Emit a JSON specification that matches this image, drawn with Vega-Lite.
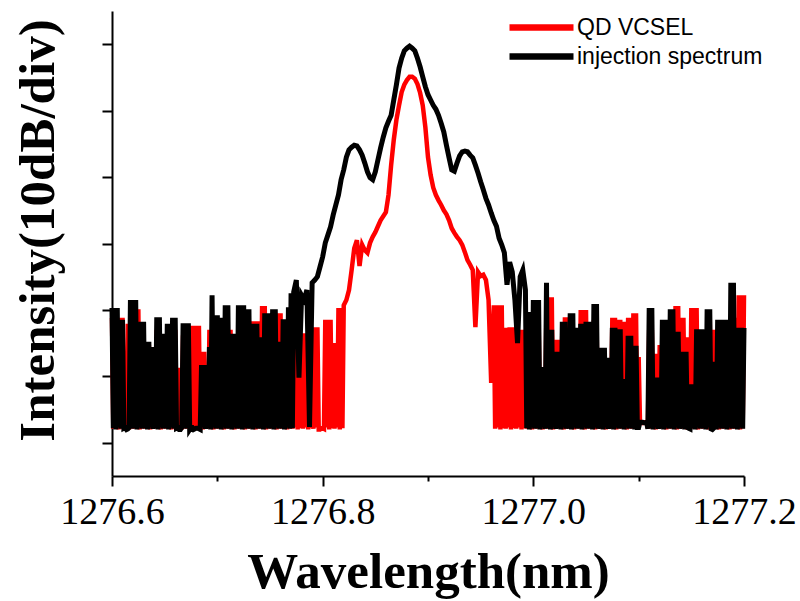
{
 "$schema": "https://vega.github.io/schema/vega-lite/v6.json",
 "width": 632, "height": 465,
 "autosize": {"type": "none"},
 "padding": {"left": 112, "top": 11, "right": 56, "bottom": 125},
 "background": "white",
 "config": {"view": {"stroke": null}},
 "data": {"values": [
{"w":1276.6,"r":23.8,"b":25.3},{"w":1276.6025,"r":23.8,"b":25.3},{"w":1276.605,"r":23.8,"b":25.3},{"w":1276.6075,"r":23.8,"b":23.5},
{"w":1276.61,"r":23.8,"b":23.5},{"w":1276.6125,"r":17.8,"b":7.3},{"w":1276.615,"r":22.9,"b":7.1},{"w":1276.6175,"r":25.1,"b":26.5},
{"w":1276.62,"r":25.1,"b":26.5},{"w":1276.6225,"r":25.1,"b":26.5},{"w":1276.625,"r":25.1,"b":14.2},{"w":1276.6275,"r":20.5,"b":23.2},
{"w":1276.63,"r":20.5,"b":23.2},{"w":1276.6325,"r":19.7,"b":20.2},{"w":1276.635,"r":19.7,"b":20.2},{"w":1276.6375,"r":19.4,"b":19.4},
{"w":1276.64,"r":19.4,"b":19.4},{"w":1276.6425,"r":22.0,"b":23.9},{"w":1276.645,"r":22.0,"b":23.9},{"w":1276.6475,"r":20.5,"b":21.4},
{"w":1276.65,"r":20.5,"b":21.4},{"w":1276.6525,"r":20.5,"b":22.9},{"w":1276.655,"r":20.5,"b":22.9},{"w":1276.6575,"r":22.0,"b":23.8},
{"w":1276.66,"r":22.0,"b":23.8},{"w":1276.6625,"r":16.3,"b":7.3},{"w":1276.665,"r":16.3,"b":7.0},{"w":1276.6675,"r":21.2,"b":23.0},
{"w":1276.67,"r":21.2,"b":23.0},{"w":1276.6725,"r":22.6,"b":23.0},{"w":1276.675,"r":22.6,"b":7.3},{"w":1276.6775,"r":22.6,"b":7.0},
{"w":1276.68,"r":22.6,"b":7.2},{"w":1276.6825,"r":22.6,"b":7.1},{"w":1276.685,"r":18.7,"b":16.7},{"w":1276.6875,"r":18.7,"b":16.7},
{"w":1276.69,"r":11.4,"b":11.4},{"w":1276.6925,"r":22.0,"b":19.4},{"w":1276.695,"r":22.0,"b":27.2},{"w":1276.6975,"r":22.0,"b":24.2},
{"w":1276.7,"r":22.0,"b":24.2},{"w":1276.7025,"r":22.0,"b":23.8},{"w":1276.705,"r":22.0,"b":23.8},{"w":1276.7075,"r":22.0,"b":25.7},
{"w":1276.71,"r":22.0,"b":25.7},{"w":1276.7125,"r":22.0,"b":21.4},{"w":1276.715,"r":17.9,"b":21.4},{"w":1276.7175,"r":17.9,"b":21.4},
{"w":1276.72,"r":22.0,"b":25.7},{"w":1276.7225,"r":22.0,"b":25.7},{"w":1276.725,"r":22.0,"b":25.7},{"w":1276.7275,"r":22.0,"b":25.1},
{"w":1276.73,"r":22.0,"b":25.1},{"w":1276.7325,"r":23.3,"b":22.9},{"w":1276.735,"r":23.3,"b":22.9},{"w":1276.7375,"r":23.3,"b":22.9},
{"w":1276.74,"r":23.3,"b":20.9},{"w":1276.7425,"r":25.6,"b":20.9},{"w":1276.745,"r":25.6,"b":24.5},{"w":1276.7475,"r":22.0,"b":24.5},
{"w":1276.75,"r":22.0,"b":24.5},{"w":1276.7525,"r":22.0,"b":25.1},{"w":1276.755,"r":23.5,"b":25.1},{"w":1276.7575,"r":24.5,"b":20.2},
{"w":1276.76,"r":24.5,"b":20.2},{"w":1276.7625,"r":22.0,"b":23.6},{"w":1276.765,"r":22.0,"b":23.6},{"w":1276.7675,"r":22.0,"b":25.4},
{"w":1276.77,"r":22.0,"b":27.5},{"w":1276.7725,"r":22.0,"b":27.7},{"w":1276.775,"r":22.0,"b":29.5},{"w":1276.7775,"r":18.2,"b":14.8},
{"w":1276.78,"r":21.5,"b":27.2},{"w":1276.7825,"r":21.5,"b":26.5},{"w":1276.785,"r":20.5,"b":28.0},{"w":1276.7875,"r":20.5,"b":7.4},
{"w":1276.79,"r":17.5,"b":29.1},{"w":1276.7925,"r":22.4,"b":29.5},{"w":1276.795,"r":22.4,"b":30.0},{"w":1276.7975,"r":7.0,"b":31.5},
{"w":1276.8,"r":7.2,"b":33.0},{"w":1276.8025,"r":23.5,"b":35.1},{"w":1276.805,"r":23.5,"b":36.3},{"w":1276.8075,"r":23.5,"b":37.5},
{"w":1276.81,"r":20.0,"b":39.3},{"w":1276.8125,"r":20.0,"b":40.8},{"w":1276.815,"r":25.3,"b":42.3},{"w":1276.8175,"r":25.3,"b":44.6},
{"w":1276.82,"r":25.7,"b":46.1},{"w":1276.8225,"r":26.5,"b":48.0},{"w":1276.825,"r":28.0,"b":49.1},{"w":1276.8275,"r":31.0,"b":49.5},
{"w":1276.83,"r":34.3,"b":49.8},{"w":1276.8325,"r":35.5,"b":49.7},{"w":1276.835,"r":31.6,"b":49.1},{"w":1276.8375,"r":34.8,"b":48.3},
{"w":1276.84,"r":34.0,"b":47.1},{"w":1276.8425,"r":33.6,"b":45.8},{"w":1276.845,"r":35.1,"b":44.9},{"w":1276.8475,"r":36.0,"b":44.6},
{"w":1276.85,"r":36.7,"b":45.8},{"w":1276.8525,"r":37.6,"b":47.6},{"w":1276.855,"r":38.5,"b":49.4},{"w":1276.8575,"r":39.1,"b":51.0},
{"w":1276.86,"r":39.7,"b":52.4},{"w":1276.8625,"r":42.3,"b":53.4},{"w":1276.865,"r":46.8,"b":54.3},{"w":1276.8675,"r":50.6,"b":56.6},
{"w":1276.87,"r":53.6,"b":58.9},{"w":1276.8725,"r":55.8,"b":61.4},{"w":1276.875,"r":57.8,"b":62.9},{"w":1276.8775,"r":58.9,"b":64.0},
{"w":1276.88,"r":59.6,"b":64.4},{"w":1276.8825,"r":60.1,"b":64.7},{"w":1276.885,"r":60.1,"b":64.4},{"w":1276.8875,"r":59.8,"b":64.0},
{"w":1276.89,"r":59.0,"b":62.9},{"w":1276.8925,"r":57.7,"b":61.6},{"w":1276.895,"r":55.8,"b":60.1},{"w":1276.8975,"r":52.5,"b":58.6},
{"w":1276.9,"r":48.0,"b":57.4},{"w":1276.9025,"r":45.3,"b":56.6},{"w":1276.905,"r":43.4,"b":55.8},{"w":1276.9075,"r":42.3,"b":55.2},
{"w":1276.91,"r":41.5,"b":54.3},{"w":1276.9125,"r":40.8,"b":53.1},{"w":1276.915,"r":40.0,"b":51.8},{"w":1276.9175,"r":39.4,"b":49.8},
{"w":1276.92,"r":38.5,"b":47.9},{"w":1276.9225,"r":37.3,"b":46.1},{"w":1276.925,"r":36.6,"b":45.9},{"w":1276.9275,"r":36.0,"b":47.1},
{"w":1276.93,"r":35.5,"b":48.2},{"w":1276.9325,"r":34.8,"b":48.8},{"w":1276.935,"r":33.7,"b":48.9},{"w":1276.9375,"r":32.5,"b":48.8},
{"w":1276.94,"r":31.8,"b":48.3},{"w":1276.9425,"r":31.0,"b":47.9},{"w":1276.945,"r":22.4,"b":46.8},{"w":1276.9475,"r":30.7,"b":45.6},
{"w":1276.95,"r":30.1,"b":44.3},{"w":1276.9525,"r":30.3,"b":43.1},{"w":1276.955,"r":29.5,"b":41.8},{"w":1276.9575,"r":26.5,"b":40.8},
{"w":1276.96,"r":14.0,"b":39.6},{"w":1276.9625,"r":25.7,"b":38.5},{"w":1276.965,"r":25.7,"b":37.6},{"w":1276.9675,"r":25.7,"b":35.8},
{"w":1276.97,"r":25.7,"b":34.8},{"w":1276.9725,"r":22.3,"b":33.6},{"w":1276.975,"r":22.3,"b":28.8},{"w":1276.9775,"r":22.4,"b":32.2},
{"w":1276.98,"r":22.4,"b":30.7},{"w":1276.9825,"r":22.4,"b":26.5},{"w":1276.985,"r":22.4,"b":20.0},{"w":1276.9875,"r":22.0,"b":30.0},
{"w":1276.99,"r":22.0,"b":31.0},{"w":1276.9925,"r":22.0,"b":28.0},{"w":1276.995,"r":20.5,"b":24.7},{"w":1276.9975,"r":23.5,"b":24.7},
{"w":1277.0,"r":23.5,"b":26.5},{"w":1277.0025,"r":23.5,"b":26.5},{"w":1277.005,"r":23.5,"b":26.5},{"w":1277.0075,"r":16.0,"b":16.4},
{"w":1277.01,"r":16.0,"b":16.4},{"w":1277.0125,"r":26.5,"b":29.1},{"w":1277.015,"r":26.9,"b":22.0},{"w":1277.0175,"r":26.9,"b":22.0},
{"w":1277.02,"r":20.5,"b":18.7},{"w":1277.0225,"r":20.5,"b":18.7},{"w":1277.025,"r":20.5,"b":14.2},{"w":1277.0275,"r":22.0,"b":23.2},
{"w":1277.03,"r":23.9,"b":23.2},{"w":1277.0325,"r":23.9,"b":12.2},{"w":1277.035,"r":22.0,"b":24.5},{"w":1277.0375,"r":22.0,"b":24.5},
{"w":1277.04,"r":21.2,"b":22.3},{"w":1277.0425,"r":21.2,"b":22.3},{"w":1277.045,"r":25.0,"b":22.9},{"w":1277.0475,"r":25.0,"b":22.9},
{"w":1277.05,"r":25.0,"b":23.2},{"w":1277.0525,"r":22.0,"b":23.2},{"w":1277.055,"r":22.0,"b":23.2},{"w":1277.0575,"r":23.5,"b":25.9},
{"w":1277.06,"r":23.5,"b":25.9},{"w":1277.0625,"r":17.5,"b":19.3},{"w":1277.065,"r":17.5,"b":19.3},{"w":1277.0675,"r":17.5,"b":19.3},
{"w":1277.07,"r":17.5,"b":17.8},{"w":1277.0725,"r":17.5,"b":17.8},{"w":1277.075,"r":23.8,"b":22.3},{"w":1277.0775,"r":23.8,"b":22.3},
{"w":1277.08,"r":23.5,"b":22.1},{"w":1277.0825,"r":23.5,"b":22.1},{"w":1277.085,"r":23.2,"b":14.6},{"w":1277.0875,"r":23.2,"b":14.6},
{"w":1277.09,"r":23.8,"b":21.1},{"w":1277.0925,"r":23.8,"b":21.1},{"w":1277.095,"r":24.5,"b":19.6},{"w":1277.0975,"r":24.5,"b":19.6},
{"w":1277.1,"r":17.9,"b":7.3},{"w":1277.1025,"r":8.1,"b":8.1},{"w":1277.105,"r":8.1,"b":8.0},{"w":1277.1075,"r":8.0,"b":8.1},
{"w":1277.11,"r":22.0,"b":25.3},{"w":1277.1125,"r":22.0,"b":25.3},{"w":1277.115,"r":18.4,"b":14.8},{"w":1277.1175,"r":18.4,"b":14.8},
{"w":1277.12,"r":19.7,"b":14.8},{"w":1277.1225,"r":19.7,"b":23.5},{"w":1277.125,"r":22.0,"b":23.5},{"w":1277.1275,"r":22.0,"b":23.5},
{"w":1277.13,"r":23.5,"b":25.1},{"w":1277.1325,"r":23.5,"b":25.1},{"w":1277.135,"r":25.6,"b":21.7},{"w":1277.1375,"r":25.6,"b":21.7},
{"w":1277.14,"r":23.8,"b":18.7},{"w":1277.1425,"r":23.8,"b":18.7},{"w":1277.145,"r":20.9,"b":18.7},{"w":1277.1475,"r":20.9,"b":7.2},
{"w":1277.15,"r":25.3,"b":13.8},{"w":1277.1525,"r":25.3,"b":13.8},{"w":1277.155,"r":25.3,"b":22.1},{"w":1277.1575,"r":20.5,"b":22.1},
{"w":1277.16,"r":20.5,"b":22.1},{"w":1277.1625,"r":20.5,"b":18.2},{"w":1277.165,"r":20.5,"b":25.1},{"w":1277.1675,"r":23.5,"b":25.1},
{"w":1277.17,"r":22.0,"b":7.0},{"w":1277.1725,"r":22.0,"b":17.2},{"w":1277.175,"r":22.0,"b":23.5},{"w":1277.1775,"r":20.5,"b":23.5},
{"w":1277.18,"r":20.5,"b":23.5},{"w":1277.1825,"r":20.5,"b":23.5},{"w":1277.185,"r":20.5,"b":23.2},{"w":1277.1875,"r":22.0,"b":29.1},
{"w":1277.19,"r":22.0,"b":29.1},{"w":1277.1925,"r":23.8,"b":20.5},{"w":1277.195,"r":27.2,"b":22.3},{"w":1277.1975,"r":27.2,"b":22.3},
{"w":1277.2,"r":27.2,"b":22.3},
{"w":1276.60125,"r":7.1,"b":7.2},{"w":1276.60375,"r":7.3,"b":7.0},{"w":1276.60625,"r":7.0,"b":7.3},{"w":1276.60875,"r":7.2,"b":7.1},
{"w":1276.61125,"r":7.1,"b":7.2},{"w":1276.61375,"r":7.3,"b":7.0},{"w":1276.61625,"r":7.0,"b":7.3},{"w":1276.61875,"r":7.2,"b":7.1},
{"w":1276.62125,"r":7.1,"b":7.2},{"w":1276.62375,"r":7.3,"b":7.0},{"w":1276.62625,"r":7.0,"b":7.3},{"w":1276.62875,"r":7.2,"b":7.1},
{"w":1276.63125,"r":7.1,"b":7.2},{"w":1276.63375,"r":7.3,"b":7.0},{"w":1276.63625,"r":7.0,"b":7.3},{"w":1276.63875,"r":7.2,"b":7.1},
{"w":1276.64125,"r":7.1,"b":7.2},{"w":1276.64375,"r":7.3,"b":7.0},{"w":1276.64625,"r":7.0,"b":7.3},{"w":1276.64875,"r":7.2,"b":7.1},
{"w":1276.65125,"r":7.1,"b":7.2},{"w":1276.65375,"r":7.3,"b":7.0},{"w":1276.65625,"r":7.0,"b":7.3},{"w":1276.65875,"r":7.2,"b":7.1},
{"w":1276.66125,"r":7.1,"b":7.2},{"w":1276.66375,"r":7.3,"b":7.0},{"w":1276.66625,"r":7.0,"b":7.3},{"w":1276.66875,"r":7.2,"b":7.1},
{"w":1276.67125,"r":7.1,"b":7.2},{"w":1276.67375,"r":7.3,"b":7.0},{"w":1276.67625,"r":7.0,"b":7.3},{"w":1276.67875,"r":7.2,"b":7.1},
{"w":1276.68125,"r":7.1,"b":7.2},{"w":1276.68375,"r":7.3,"b":7.0},{"w":1276.68625,"r":7.0,"b":7.3},{"w":1276.68875,"r":7.2,"b":7.1},
{"w":1276.69125,"r":7.1,"b":7.2},{"w":1276.69375,"r":7.3,"b":7.0},{"w":1276.69625,"r":7.0,"b":7.3},{"w":1276.69875,"r":7.2,"b":7.1},
{"w":1276.70125,"r":7.1,"b":7.2},{"w":1276.70375,"r":7.3,"b":7.0},{"w":1276.70625,"r":7.0,"b":7.3},{"w":1276.70875,"r":7.2,"b":7.1},
{"w":1276.71125,"r":7.1,"b":7.2},{"w":1276.71375,"r":7.3,"b":7.0},{"w":1276.71625,"r":7.0,"b":7.3},{"w":1276.71875,"r":7.2,"b":7.1},
{"w":1276.72125,"r":7.1,"b":7.2},{"w":1276.72375,"r":7.3,"b":7.0},{"w":1276.72625,"r":7.0,"b":7.3},{"w":1276.72875,"r":7.2,"b":7.1},
{"w":1276.73125,"r":7.1,"b":7.2},{"w":1276.73375,"r":7.3,"b":7.0},{"w":1276.73625,"r":7.0,"b":7.3},{"w":1276.73875,"r":7.2,"b":7.1},
{"w":1276.74125,"r":7.1,"b":7.2},{"w":1276.74375,"r":7.3,"b":7.0},{"w":1276.74625,"r":7.0,"b":7.3},{"w":1276.74875,"r":7.2,"b":7.1},
{"w":1276.75125,"r":7.1,"b":7.2},{"w":1276.75375,"r":7.3,"b":7.0},{"w":1276.75625,"r":7.0,"b":7.3},{"w":1276.75875,"r":7.2,"b":7.1},
{"w":1276.76125,"r":7.1,"b":7.2},{"w":1276.76375,"r":7.3,"b":7.0},{"w":1276.76625,"r":7.0,"b":7.3},{"w":1276.76875,"r":7.2,"b":7.1},
{"w":1276.77125,"r":7.1,"b":7.2},{"w":1276.77375,"r":7.3},{"w":1276.77625,"r":7.0},{"w":1276.77875,"r":7.2},
{"w":1276.78125,"r":7.1},{"w":1276.78375,"r":7.3},{"w":1276.78625,"r":7.0},{"w":1276.78875,"r":7.2},
{"w":1276.79125,"r":7.1},{"w":1276.79375,"r":7.3},{"w":1276.79625,"r":7.0},{"w":1276.79875,"r":7.2},
{"w":1276.80125,"r":7.1},{"w":1276.80375,"r":7.3},{"w":1276.80625,"r":7.0},{"w":1276.80875,"r":7.2},
{"w":1276.81125,"r":7.1},{"w":1276.81375,"r":7.3},{"w":1276.81625,"r":7.0},{"w":1276.81875,"r":7.2},
{"w":1276.96375,"r":7.1},{"w":1276.96625,"r":7.3},{"w":1276.96875,"r":7.0},{"w":1276.97125,"r":7.2},
{"w":1276.97375,"r":7.1},{"w":1276.97625,"r":7.3},{"w":1276.97875,"r":7.0},{"w":1276.98125,"r":7.2},
{"w":1276.98375,"r":7.1},{"w":1276.98625,"r":7.3},{"w":1276.98875,"r":7.0},{"w":1276.99125,"r":7.2},
{"w":1276.99375,"r":7.1,"b":7.2},{"w":1276.99625,"r":7.3,"b":7.0},{"w":1276.99875,"r":7.0,"b":7.3},{"w":1277.00125,"r":7.2,"b":7.1},
{"w":1277.00375,"r":7.1,"b":7.2},{"w":1277.00625,"r":7.3,"b":7.0},{"w":1277.00875,"r":7.0,"b":7.3},{"w":1277.01125,"r":7.2,"b":7.1},
{"w":1277.01375,"r":7.1,"b":7.2},{"w":1277.01625,"r":7.3,"b":7.0},{"w":1277.01875,"r":7.0,"b":7.3},{"w":1277.02125,"r":7.2,"b":7.1},
{"w":1277.02375,"r":7.1,"b":7.2},{"w":1277.02625,"r":7.3,"b":7.0},{"w":1277.02875,"r":7.0,"b":7.3},{"w":1277.03125,"r":7.2,"b":7.1},
{"w":1277.03375,"r":7.1,"b":7.2},{"w":1277.03625,"r":7.3,"b":7.0},{"w":1277.03875,"r":7.0,"b":7.3},{"w":1277.04125,"r":7.2,"b":7.1},
{"w":1277.04375,"r":7.1,"b":7.2},{"w":1277.04625,"r":7.3,"b":7.0},{"w":1277.04875,"r":7.0,"b":7.3},{"w":1277.05125,"r":7.2,"b":7.1},
{"w":1277.05375,"r":7.1,"b":7.2},{"w":1277.05625,"r":7.3,"b":7.0},{"w":1277.05875,"r":7.0,"b":7.3},{"w":1277.06125,"r":7.2,"b":7.1},
{"w":1277.06375,"r":7.1,"b":7.2},{"w":1277.06625,"r":7.3,"b":7.0},{"w":1277.06875,"r":7.0,"b":7.3},{"w":1277.07125,"r":7.2,"b":7.1},
{"w":1277.07375,"r":7.1,"b":7.2},{"w":1277.07625,"r":7.3,"b":7.0},{"w":1277.07875,"r":7.0,"b":7.3},{"w":1277.08125,"r":7.2,"b":7.1},
{"w":1277.08375,"r":7.1,"b":7.2},{"w":1277.08625,"r":7.3,"b":7.0},{"w":1277.08875,"r":7.0,"b":7.3},{"w":1277.09125,"r":7.2,"b":7.1},
{"w":1277.09375,"r":7.1,"b":7.2},{"w":1277.09625,"r":7.3,"b":7.0},{"w":1277.09875,"r":7.0,"b":7.3},{"w":1277.10125,"r":8.1,"b":8.1},
{"w":1277.10375,"r":8.0,"b":8.1},{"w":1277.10625,"r":8.1,"b":8.0},{"w":1277.10875,"r":7.2,"b":7.1},{"w":1277.11125,"r":7.1,"b":7.2},
{"w":1277.11375,"r":7.3,"b":7.0},{"w":1277.11625,"r":7.0,"b":7.3},{"w":1277.11875,"r":7.2,"b":7.1},{"w":1277.12125,"r":7.1,"b":7.2},
{"w":1277.12375,"r":7.3,"b":7.0},{"w":1277.12625,"r":7.0,"b":7.3},{"w":1277.12875,"r":7.2,"b":7.1},{"w":1277.13125,"r":7.1,"b":7.2},
{"w":1277.13375,"r":7.3,"b":7.0},{"w":1277.13625,"r":7.0,"b":7.3},{"w":1277.13875,"r":7.2,"b":7.1},{"w":1277.14125,"r":7.1,"b":7.2},
{"w":1277.14375,"r":7.3,"b":7.0},{"w":1277.14625,"r":7.0,"b":7.3},{"w":1277.14875,"r":7.2,"b":7.1},{"w":1277.15125,"r":7.1,"b":7.2},
{"w":1277.15375,"r":7.3,"b":7.0},{"w":1277.15625,"r":7.0,"b":7.3},{"w":1277.15875,"r":7.2,"b":7.1},{"w":1277.16125,"r":7.1,"b":7.2},
{"w":1277.16375,"r":7.3,"b":7.0},{"w":1277.16625,"r":7.0,"b":7.3},{"w":1277.16875,"r":7.2,"b":7.1},{"w":1277.17125,"r":7.1,"b":7.2},
{"w":1277.17375,"r":7.3,"b":7.0},{"w":1277.17625,"r":7.0,"b":7.3},{"w":1277.17875,"r":7.2,"b":7.1},{"w":1277.18125,"r":7.1,"b":7.2},
{"w":1277.18375,"r":7.3,"b":7.0},{"w":1277.18625,"r":7.0,"b":7.3},{"w":1277.18875,"r":7.2,"b":7.1},{"w":1277.19125,"r":7.1,"b":7.2},
{"w":1277.19375,"r":7.3,"b":7.0},{"w":1277.19625,"r":7.0,"b":7.3},{"w":1277.19875,"r":7.2,"b":7.1}
 ]},
 "layer": [
  {
   "mark": {"type": "line", "strokeWidth": 4.5, "strokeMiterLimit": 4, "invalid": "filter"},
   "encoding": {
    "x": {"field": "w", "type": "quantitative",
      "scale": {"domain": [1276.6, 1277.2], "nice": false, "zero": false},
      "axis": {"orient": "bottom", "values": [1276.6, 1276.8, 1277.0, 1277.2], "format": ".1f",
        "grid": false, "tickSize": 10, "tickWidth": 2, "tickColor": "black",
        "domainColor": "black", "domainWidth": 2,
        "labelFont": "Liberation Serif", "labelFontSize": 38, "labelColor": "black",
        "labelBaseline": "alphabetic", "labelPadding": 37, "labelFlush": false, "labelOverlap": false,
        "title": "Wavelength(nm)", "titleFont": "Liberation Serif", "titleFontSize": 51,
        "titleFontWeight": "bold", "titleColor": "black", "titleX": 316, "titleY": 111,
        "titleAlign": "center", "titleBaseline": "alphabetic"}},
    "y": {"field": "r", "type": "quantitative",
      "scale": {"domain": [0, 70], "nice": false, "zero": false},
      "axis": {"values": [5, 15, 25, 35, 45, 55, 65], "labels": false, "grid": false,
        "tickSize": 10, "tickWidth": 2, "tickColor": "black", "domainColor": "black", "domainWidth": 2,
        "title": "Intensity(10dB/div)", "titleFont": "Liberation Serif", "titleFontSize": 51,
        "titleFontWeight": "bold", "titleColor": "black", "titleAngle": 270,
        "titleX": -59, "titleY": 219, "titleAlign": "center", "titleBaseline": "alphabetic"}},
    "color": {"datum": "QD VCSEL", "type": "nominal",
      "scale": {"domain": ["QD VCSEL", "injection spectrum"], "range": ["#ff0000", "#000000"]},
      "legend": {"orient": "none", "legendX": 394, "legendY": 2, "title": null,
        "symbolType": "stroke", "symbolSize": 4096, "symbolStrokeWidth": 6.5,
        "clipHeight": 29, "rowPadding": 0, "padding": 0, "labelOffset": 0,
        "labelFont": "Liberation Sans", "labelFontSize": 23, "labelColor": "black", "labelLimit": 0}}
   }
  },
  {
   "mark": {"type": "line", "strokeWidth": 5, "strokeMiterLimit": 4, "invalid": "filter"},
   "encoding": {
    "x": {"field": "w", "type": "quantitative",
      "axis": {"orient": "bottom", "values": [1276.7, 1276.9, 1277.1], "labels": false, "domain": false,
        "grid": false, "tickSize": 5, "tickWidth": 2, "tickColor": "black", "title": null}},
    "y": {"field": "b", "type": "quantitative",
      "axis": {"values": [5, 15, 25, 35, 45, 55, 65], "labels": false, "grid": false,
        "tickSize": 10, "tickWidth": 2, "tickColor": "black", "domainColor": "black", "domainWidth": 2,
        "title": "Intensity(10dB/div)", "titleFont": "Liberation Serif", "titleFontSize": 51,
        "titleFontWeight": "bold", "titleColor": "black", "titleAngle": 270,
        "titleX": -59, "titleY": 219, "titleAlign": "center", "titleBaseline": "alphabetic"}},
    "color": {"datum": "injection spectrum", "type": "nominal"}
   }
  }
 ],
 "resolve": {"axis": {"x": "independent"}}
}
